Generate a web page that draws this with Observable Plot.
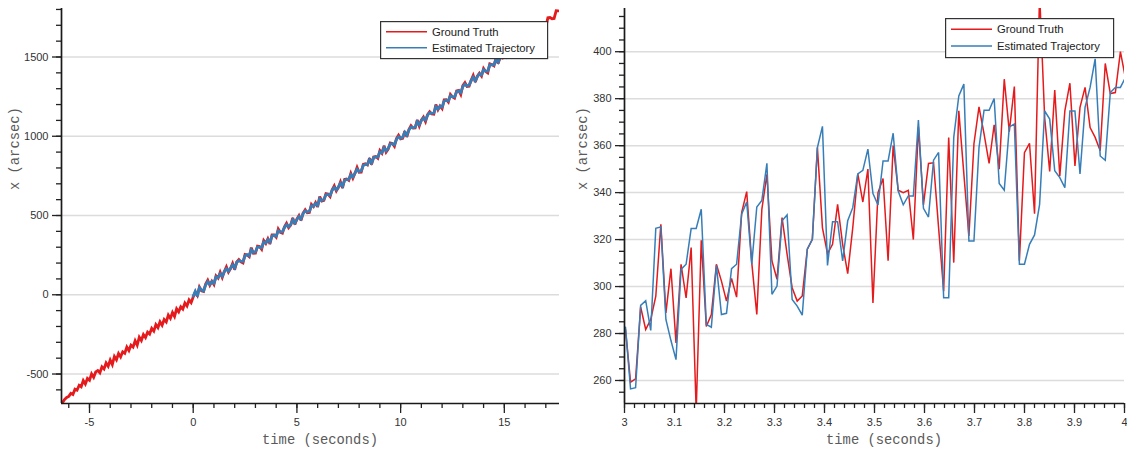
<!DOCTYPE html>
<html><head><meta charset="utf-8">
<script src="https://cdn.jsdelivr.net/npm/d3@7"></script>
<script src="https://cdn.jsdelivr.net/npm/@observablehq/plot@0.6"></script>
<style>
body{margin:0;background:#fff;}
#wrap{position:relative;width:1127px;height:453px;display:flex;overflow:hidden;}
#wrap svg{display:block;}
.legend{position:absolute;}
</style></head><body><div id="wrap"></div>
<script>
// ---------------- data ----------------
const seriesNames = ["Ground Truth", "Estimated Trajectory"];
const seriesColors = ["#e41a1c", "#377eb8"];
const axisLabelX = "time (seconds)";
const axisLabelY = "x (arcsec)";

// overview panel: samples every 0.1 s
const overviewStep = 0.1;
const overviewRedStart = -6.3;
const overviewBlueStart = 0;
const overviewRed = [
 -680,-660,-648,-641,-622,-629,-596,-602,-571,-580,
 -541,-563,-528,-540,-499,-521,-487,-478,-492,-455,
 -468,-430,-451,-412,-440,-389,-410,-371,-392,-360,
 -369,-330,-352,-318,-330,-290,-318,-268,-289,-251,
 -270,-236,-248,-212,-229,-188,-207,-170,-192,-156,
 -171,-128,-149,-112,-137,-89,-108,-76,-90,-52,
 -71,-33,-50,-14,
 17,-4,49,25,21,68,92,60,85,65,
 119,105,142,109,147,176,143,165,197,159,
 207,222,207,201,254,251,240,297,262,263,
 307,304,287,342,324,353,320,377,377,363,
 415,394,389,428,451,424,440,485,444,478,
 500,469,515,536,517,519,570,556,581,555,
 620,591,595,638,635,619,663,687,655,677,
 712,674,727,730,722,766,735,766,803,772,
 773,822,826,819,862,822,869,872,861,910,
 893,940,900,919,958,954,936,985,1006,984,
 987,1032,996,1042,1066,1051,1052,1102,1065,1102,
 1121,1093,1137,1155,1141,1139,1200,1167,1191,1174,
 1230,1231,1216,1264,1248,1240,1286,1289,1264,1320,
 1338,1314,1316,1353,1383,1342,1379,1398,1380,1428,
 1409,1400,1457,1453,1445,1495,1459,1499,1494,1534,
 1495,1546,1542,1534,1584,1561,1612,1579,1599,1632,
 1600,1642,1658,1634,1692,1667,1667,1712,1710,1691,
 1747,1749,1741,1743,1792,1791
];
const overviewBlue = [
 -8,22,-10,45,31,24,61,82,65,82,
 73,113,109,133,116,145,164,149,167,189,
 169,204,215,212,210,246,253,246,283,267,
 271,301,301,297,333,327,348,332,370,375,
 370,405,397,397,424,442,430,442,473,453,
 475,494,479,513,528,522,526,561,559,576,
 564,607,595,601,631,633,627,659,677,662,
 679,704,685,722,727,728,757,743,767,792,
 777,782,816,822,822,852,832,865,870,868,
 902,896,928,908,924,951,953,946,980,997,
 988,993,1025,1007,1039,1058,1053,1057,1092,1073,
 1100,1115,1102,1133,1148,1144,1146,1187,1172,1190,
 1184,1222,1227,1222,1255,1250,1248,1281,1286,1275,
 1313,1328,1318,1323,1350,1372,1351,1377,1393,1386,
 1420,1411,1410,1450,1451,1450,1485,1467,1496,1498,
 1525,1504,1541,1540
];

// zoom panel (3 s .. 4 s): samples every 0.0101 s
const zoomStart = 3.002;
const zoomStep = 0.0101;
const zoomRed = [
 281.7,259.3,260.7,291.3,281.7,286.0,295.9,326.5,288.8,307.6,
 276.0,309.5,295.2,316.6,247,319.7,283,288.1,309.5,302.3,
 293.8,303.5,295.5,331.5,340.4,310.2,288.1,332.9,347.8,310.9,
 303.1,329.4,313.7,299.5,293.8,296,315.9,320.1,359.2,325,
 314,318,335,318,305.5,325,348,336,350,293,
 340,346,311,360,341,340,341,320,368,334.8,
 352.4,352.7,325,298,363.5,310.2,374.8,348,321.5,360.8,
 376.5,365,352.4,368.9,350,388.3,366,385.2,311,357,
 361,331,425,372,349,383.7,347,374.8,386.6,351.4,
 376.3,384.8,367.7,363.5,357.8,395,382.2,382.6,400,388.8
];
const zoomBlue = [
 282.7,256.4,256.9,292,294,281.3,324.8,325.4,286,277,
 268.9,307.3,309.5,324.7,324.7,332.9,283.9,282.7,309,288.1,
 288.6,307.6,309.5,330.8,336,309.5,333.9,336.7,352.5,296.7,
 300.2,328,330.5,294.5,291.7,287.8,315.9,320.1,359.2,368.2,
 309,327.6,327.6,310.9,328,333.6,348,349.5,358.5,339.6,
 334.8,353.5,353.5,365.3,340.7,334.8,338.6,338.6,370.9,333.3,
 329.6,353.8,357.1,295.2,295.2,363.5,381.2,386.2,319.4,319.4,
 359.2,375.1,375.1,380.1,343.9,341,368,369.2,309.5,309.5,
 318,322,335,374.8,371.3,349.3,346.4,342.1,374.8,374.8,
 347.9,376.3,384.8,397,355.6,353.8,382.6,384.8,384.8,389
];

// ticks
const overviewXTicks = [-5, 0, 5, 10, 15];
const overviewYTicks = [-500, 0, 500, 1000, 1500];
const zoomXTicks = [3, 3.1, 3.2, 3.3, 3.4, 3.5, 3.6, 3.7, 3.8, 3.9, 4];
const zoomYTicks = [260, 280, 300, 320, 340, 360, 380, 400];

// ---------------- build ----------------
const toRows = (vals, start, step) => vals.map((v, i) => ({t: start + i * step, v}));

const SANS = "'Liberation Sans', Arial, Helvetica, sans-serif";
const MONO = "'Liberation Mono', 'Courier New', monospace";

function panel(o) {
  return Plot.plot({
    width: o.width, height: 453,
    marginLeft: o.marginLeft, marginRight: o.marginRight, marginTop: 8, marginBottom: 50,
    x: {domain: o.xDomain},
    y: {domain: o.yDomain},
    style: {fontFamily: SANS, fontSize: "11px", color: "#333", background: "white", overflow: "visible"},
    marks: [
      Plot.gridY({ticks: o.yTicks, stroke: "#dcdcdc", strokeOpacity: 1, strokeWidth: 1.5}),
      Plot.line(o.red, {x: "t", y: "v", stroke: seriesColors[0], strokeWidth: o.lw, strokeLinejoin: "miter", strokeMiterlimit: 3, clip: true}),
      Plot.line(o.blue, {x: "t", y: "v", stroke: seriesColors[1], strokeWidth: o.lw, strokeLinejoin: "miter", strokeMiterlimit: 3, clip: true}),
      Plot.axisY({ticks: o.yMinor, tickSize: 5, text: null, label: null, stroke: "#222", strokeWidth: 1.3}),
      Plot.axisY({ticks: o.yTicks, tickSize: 9, tickPadding: 4, tickFormat: d => `${d}`, label: null, stroke: "#222", strokeWidth: 1.3, fill: "#333"}),
      Plot.axisX({ticks: o.xMinor, tickSize: 5, text: null, label: null, stroke: "#222", strokeWidth: 1.3}),
      Plot.axisX({ticks: o.xTicks, tickSize: 10, tickPadding: 5, tickFormat: d => `${d}`, label: null, stroke: "#222", strokeWidth: 1.3, fill: "#333"}),
      Plot.ruleX([o.xDomain[0]], {stroke: "#1a1a1a", strokeWidth: 1.7}),
      Plot.ruleY([o.yDomain[0]], {stroke: "#1a1a1a", strokeWidth: 1.7}),
      Plot.text([axisLabelX], {frameAnchor: "bottom", dy: 40, dx: o.xLabelDx, fontFamily: MONO, fontSize: 13.8, fill: "#5a5a5a"}),
      Plot.text([axisLabelY], {frameAnchor: "left", rotate: -90, dx: o.yLabelDx, dy: -16, fontFamily: MONO, fontSize: 13.8, fill: "#5a5a5a"})
    ]
  });
}

function legend(left, top, w, h) {
  const svg = d3.create("svg").attr("class", "legend")
    .attr("width", w + 2).attr("height", h + 2)
    .style("left", left + "px").style("top", top + "px");
  svg.append("rect").attr("x", 0.6).attr("y", 0.6).attr("width", w).attr("height", h)
    .attr("fill", "white").attr("stroke", "#333").attr("stroke-width", 1.2);
  const rowY = [h * 0.29, h * 0.72];
  seriesNames.forEach((name, i) => {
    svg.append("line").attr("x1", 6).attr("x2", 47).attr("y1", rowY[i]).attr("y2", rowY[i])
      .attr("stroke", seriesColors[i]).attr("stroke-width", 1.5);
    svg.append("text").attr("x", 52).attr("y", rowY[i]).attr("dy", "0.35em")
      .attr("font-family", SANS).attr("font-size", 11.3).attr("fill", "#222").text(name);
  });
  return svg.node();
}

const wrap = document.getElementById("wrap");

wrap.appendChild(panel({
  width: 564, marginLeft: 61, marginRight: 5,
  xDomain: [-6.35, 17.66], yDomain: [-686, 1806],
  xTicks: overviewXTicks, xMinor: d3.range(-6, 18, 1),
  yTicks: overviewYTicks, yMinor: d3.range(-600, 1801, 100),
  red: toRows(overviewRed, overviewRedStart, overviewStep),
  blue: toRows(overviewBlue, overviewBlueStart, overviewStep),
  lw: 2.8, xLabelDx: 9.5, yLabelDx: -47
}));

wrap.appendChild(panel({
  width: 563, marginLeft: 60, marginRight: 3,
  xDomain: [3, 4], yDomain: [250.2, 418.4],
  xTicks: zoomXTicks, xMinor: d3.range(3, 4.001, 0.02),
  yTicks: zoomYTicks, yMinor: d3.range(255, 418, 5),
  red: toRows(zoomRed, zoomStart, zoomStep),
  blue: toRows(zoomBlue, zoomStart, zoomStep),
  lw: 1.5, xLabelDx: 9.5, yLabelDx: -42
}));

wrap.appendChild(legend(380, 21, 167, 37));
wrap.appendChild(legend(945, 18, 168, 39));
</script>
</body></html>
